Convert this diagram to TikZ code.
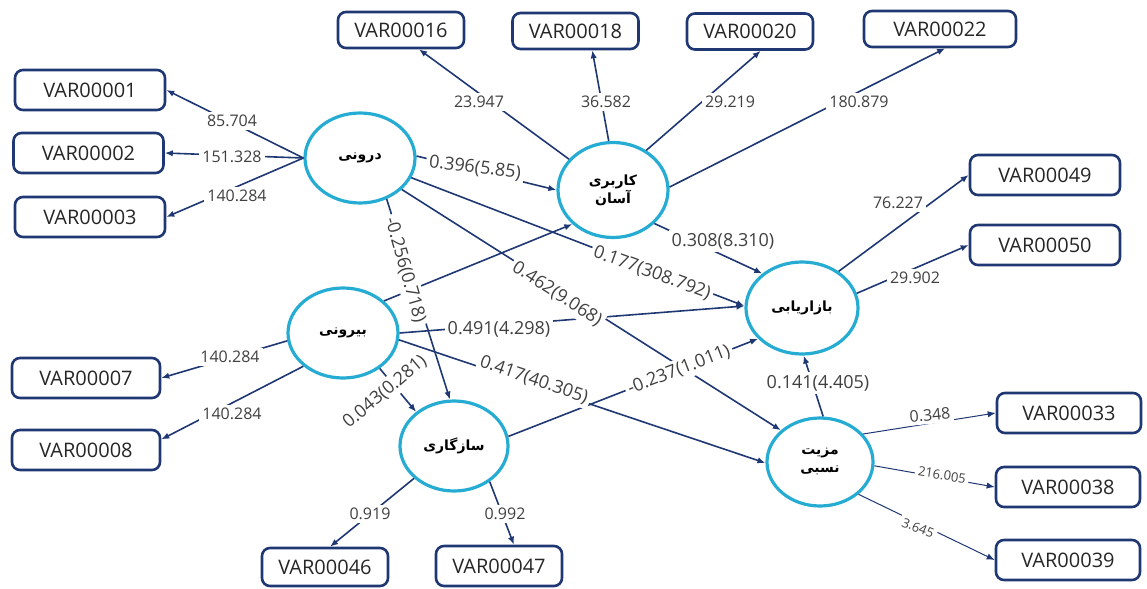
\documentclass[tikz,border=0pt]{standalone}
\usepackage{fontspec}
\setmainfont{Open Sans}
\newfontfamily\persian[Script=Arabic]{DejaVu Sans}
\TeXXeTstate=1
\usetikzlibrary{shapes.geometric,arrows.meta}

\definecolor{navy}{RGB}{31,56,115}
\definecolor{ringblue}{RGB}{38,172,210}
\definecolor{numgray}{RGB}{64,64,64}
\definecolor{boxtext}{RGB}{38,38,38}

\newcommand{\fa}[1]{{\persian\bfseries\beginR #1\endR}}

\begin{document}
\begin{tikzpicture}[x=0.5pt, y=-0.5pt,
    varbox/.style={draw=navy, line width=1.3pt, rounded corners=4pt, minimum width=75pt, minimum height=20pt, inner sep=0pt, text=boxtext, font=\fontsize{10}{12}\selectfont},
    latent/.style={ellipse, draw=ringblue, line width=1.6pt, minimum width=55pt, minimum height=45pt, inner sep=0pt, align=center, font=\fontsize{7}{9}\selectfont},
    arr/.style={navy, line width=0.8pt, -{Latex[length=4pt,width=3.2pt]}},
    thinarr/.style={arr, line width=0.5pt},
    wt/.style={fill=white, inner sep=1.5pt, text=numgray, font=\fontsize{8}{9}\selectfont},
    tiny/.style={wt, font=\fontsize{6.5}{8}\selectfont},
    pc/.style={wt, font=\fontsize{9}{10}\selectfont}]

    \useasboundingbox (0,0) rectangle (1147,589);

    % latent variables
    \draw(360,158) node [latent](lin){\fa{درونی}};
    \draw(613,190) node [latent, minimum height=47.5pt](ease){\fa{کاربری}\\\fa{آسان}};
    \draw(343,333) node [latent](ext){\fa{بیرونی}};
    \draw(454,446) node [latent, minimum width=54pt](comp){\fa{سازگاری}};
    \draw(802,308) node [latent, minimum width=56pt, minimum height=46pt](mkt){\fa{بازاریابی}};
    \draw(820,462) node [latent, minimum width=53pt, minimum height=44pt](adv){\fa{مزیت}\\\fa{نسبی}};

    % indicators
    \draw(401,30) node [varbox, minimum width=63pt, minimum height=18pt](v16){VAR00016};
    \draw(575.5,31) node [varbox, minimum width=63pt, minimum height=18pt](v18){VAR00018};
    \draw(750,31.5) node [varbox, minimum width=63pt, minimum height=18pt](v20){VAR00020};
    \draw(940,29) node [varbox, minimum width=76pt, minimum height=18pt](v22){VAR00022};

    \draw(90,90) node [varbox](v01){VAR00001};
    \draw(88.5,153) node [varbox](v02){VAR00002};
    \draw(90,217) node [varbox](v03){VAR00003};

    \draw(1045,175) node [varbox](v49){VAR00049};
    \draw(1045,245) node [varbox](v50){VAR00050};

    \draw(86,378) node [varbox, minimum width=74pt](v07){VAR00007};
    \draw(86,450) node [varbox, minimum width=74pt](v08){VAR00008};

    \draw(325,567) node [varbox, minimum width=63pt, minimum height=19pt](v46){VAR00046};
    \draw(499,566) node [varbox, minimum width=63pt](v47){VAR00047};

    \draw(1069,413) node [varbox, minimum width=72pt](v33){VAR00033};
    \draw(1068,487) node [varbox, minimum width=72pt](v38){VAR00038};
    \draw(1068,560) node [varbox, minimum width=72pt](v39){VAR00039};

    % loadings
    \draw[arr] (lin.west) -- (v01.east) node[wt] (l01) at (232,121) {85.704};
    \draw[arr] (lin.west) -- (v02.east) node[wt] (l02) at (232,157) {151.328};
    \draw[arr] (lin.west) -- (v03.east) node[wt] (l03) at (237,196) {140.284};

    \draw[arr] (ease.145) -- (v16.-47) node[wt] (l16) at (479,102) {23.947};
    \draw[arr] (ease.95) -- (v18.-49) node[wt] (l18) at (606,102) {36.582};
    \draw[arr] (ease.50) -- (v20.-61) node[wt] (l20) at (730,102) {29.219};
    \draw[arr] (ease.3) -- (v22.-75) node[wt] (l22) at (859,102) {180.879};

    \draw[arr] (mkt.45) -- (v49.west) node[wt] (l49) at (898,203) {76.227};
    \draw[arr] (mkt.15) -- (v50.west) node[wt] (l50) at (915,278) {29.902};

    \draw[arr] (ext.188) -- (v07.east) node[wt] (l07) at (230,357) {140.284};
    \draw[arr] (ext.220) -- (v08.8) node[wt] (l08) at (232,414) {140.284};

    \draw[arr] (comp.219) -- (v46.76) node[wt] (l46) at (370,514) {0.919};
    \draw[arr] (comp.-45) -- (v47.55) node[wt] (l47) at (505,514) {0.992};

    \draw[thinarr] (adv.33) -- (v33.west) node[wt, rotate=5] (l33) at (930,415) {0.348};
    \draw[thinarr] (adv.-4) -- (v38.west) node[tiny, rotate=-9] (l38) at (942,475) {216.005};
    \draw[thinarr] (adv.-40) -- (v39.west) node[tiny, rotate=-22] (l39) at (918,528) {3.645};

    % paths
    \draw[arr] (ext.38) -- (ease.220);
    \draw[arr] (ext.east) -- (mkt.178) node[pc] (p1) at (499,329) {0.491(4.298)};
    \draw[arr] (lin.-37) -- (adv.141) node[pc, rotate=-33] (p2) at (557,294) {0.462(9.068)};
    \draw[arr] (lin.-57) -- (comp.95) node[pc, rotate=-74] (p3) at (405,270) {-0.256(0.718)};
    \draw[arr] (comp.10) -- (mkt.215) node[pc, rotate=21] (p4) at (679,370) {-0.237(1.011)};
    \draw[arr] (lin.2) -- (ease.west) node[pc, rotate=-7] (p5) at (475,168) {0.396(5.85)};
    \draw[arr] (lin.-21) -- (mkt.178) node[pc, rotate=-20] (p6) at (652,273) {0.177(308.792)};
    \draw[arr] (ease.-39) -- (mkt.139) node[pc] (p7) at (723,241) {0.308(8.310)};
    \draw[arr] (ext.-44) -- (comp.138) node[pc, rotate=40] (p8) at (385,392) {0.043(0.281)};
    \draw[arr] (ext.-7) -- (adv.181) node[pc, rotate=-19] (p9) at (534,380) {0.417(40.305)};
    \draw[arr] (adv.86) -- (mkt.-88) node[pc] (p10) at (818,383) {0.141(4.405)};

\end{tikzpicture}
\end{document}
